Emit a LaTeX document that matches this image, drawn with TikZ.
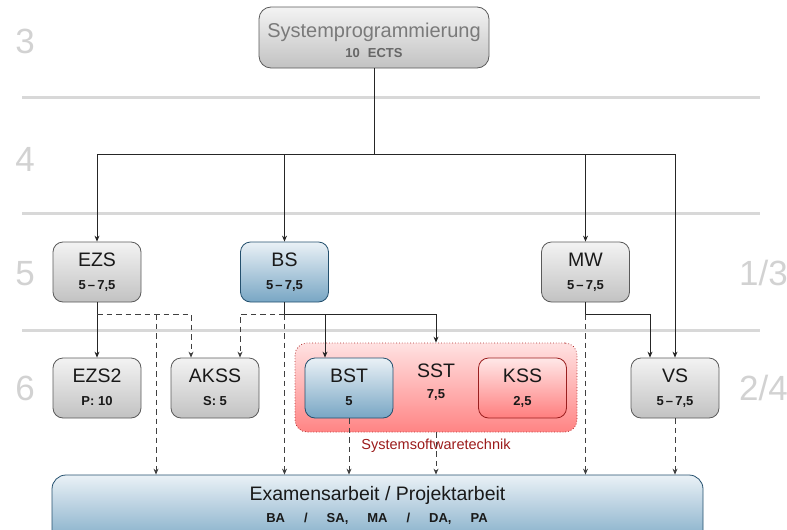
\documentclass[tikz,border=0pt]{standalone}
\usepackage{fontspec}
\setmainfont{Liberation Sans}
\usetikzlibrary{arrows.meta,calc}
\definecolor{gtop}{HTML}{F3F3F3}
\definecolor{gbot}{HTML}{C2C2C2}
\definecolor{gline}{HTML}{5A5A5A}
\definecolor{btop}{HTML}{EAF1F6}
\definecolor{bbot}{HTML}{78A6C4}
\definecolor{bline}{HTML}{24506E}
\definecolor{rtop}{HTML}{FFE8E8}
\definecolor{rbot}{HTML}{FF7E7E}
\definecolor{rline}{HTML}{9A1F1F}
\definecolor{grptop}{HTML}{FFE2E2}
\definecolor{grpbot}{HTML}{FF8484}
\definecolor{grpline}{HTML}{B03030}
\definecolor{semgray}{HTML}{D2D2D2}
\definecolor{sepgray}{HTML}{D8D8D8}
\definecolor{labelred}{HTML}{9B1B1B}
\definecolor{topgray}{HTML}{7A7A7A}
\tikzset{
  modbox/.style={rectangle, rounded corners=10pt, line width=0.8pt, minimum width=88pt, minimum height=60pt, inner sep=0pt},
  graybox/.style={modbox, draw=gline, top color=gtop, bottom color=gbot},
  bluebox/.style={modbox, draw=bline, top color=btop, bottom color=bbot},
  redbox/.style={modbox, draw=rline, top color=rtop, bottom color=rbot},
  grpbox/.style={rectangle, rounded corners=12pt, draw=grpline, dotted, line width=0.8pt, top color=grptop, bottom color=grpbot, inner sep=0pt},
  ttl/.style={font=\fontsize{19.5}{22}\selectfont, anchor=base, inner sep=0pt, text=black!90},
  subt/.style={font=\bfseries\fontsize{13}{15}\selectfont, anchor=base, inner sep=0pt, text=black!90},
  sem/.style={font=\fontsize{35}{40}\selectfont, text=semgray, inner sep=0pt},
  sepline/.style={draw=sepgray, line width=3pt},
  conn/.style={line width=0.8pt, draw=black!85, -{Stealth[length=6pt,width=5pt,inset=2pt]}},
  dconn/.style={conn, draw=black!75, dash pattern=on 5.5pt off 4pt},
}
\newcommand\modul[6]{%
  \node[#2] (#1) at (#3,#4+30) {};
  \node[ttl] (#1t) at ($(#1.north)+(0,25)$) {#5};
  \node[subt] (#1s) at ($(#1.north)+(0,48)$) {#6};
}
\begin{document}
\begin{tikzpicture}[x=1pt,y=-1pt]
\useasboundingbox (0,0) rectangle (787,530);
\clip (0,0) rectangle (787,530);
% separators
\draw[sepline] (22,97) -- (760,97);
\draw[sepline] (22,213) -- (760,213);
\draw[sepline] (22,330) -- (760,330);
% semester labels
\node[sem, anchor=base] (s3) at (25,53) {3};
\node[sem, anchor=base] (s4) at (25,171) {4};
\node[sem, anchor=base] (s5) at (25,285) {5};
\node[sem, anchor=base] (s6) at (25,400) {6};
\node[sem, anchor=base east] (s13) at (788,285) {1/3};
\node[sem, anchor=base east] (s24) at (788,400) {2/4};
% top node
\node[graybox, rounded corners=12pt, minimum width=230pt, minimum height=61pt] (top) at (374,37.5) {};
\node[ttl, text=topgray, font=\fontsize{20}{23}\selectfont] (topt) at (374,37) {Systemprogrammierung};
\node[subt, text=black!60] (tops) at (374,57) {10\hspace{8pt}ECTS};
% SST group
\node[grpbox, minimum width=282pt, minimum height=89pt] (sst) at (436,387.5) {};
\node[ttl] (sstt) at (436,377) {SST};
\node[subt] (ssts) at (436,398) {7,5};
\node[anchor=base, inner sep=0pt, text=labelred, font=\fontsize{14.5}{16}\selectfont] (sstlabel) at (436,449) {Systemsoftwaretechnik};
% modules
\modul{ezs}{graybox}{97}{242}{EZS}{5\,–\,7,5}
\modul{bs}{bluebox}{284.5}{242}{BS}{5\,–\,7,5}
\modul{mw}{graybox}{585.5}{242}{MW}{5\,–\,7,5}
\modul{ezstwo}{graybox}{97}{358}{EZS2}{P: 10}
\modul{akss}{graybox}{215}{358}{AKSS}{S: 5}
\modul{bst}{bluebox}{349}{358}{BST}{5}
\modul{kss}{redbox}{522.5}{358}{KSS}{2,5}
\modul{vs}{graybox}{675}{358}{VS}{5\,–\,7,5}
% exam node
\node[bluebox, rounded corners=14pt, minimum width=651pt, minimum height=73pt] (exam) at (377.5,511.5) {};
\node[ttl] (examt) at (377.5,500) {Examensarbeit / Projektarbeit};
\node[subt] (exams) at (377,522) {BA\hspace{19pt}/\hspace{19pt}SA,\hspace{19pt}MA\hspace{19pt}/\hspace{19pt}DA,\hspace{19pt}PA};
% coordinates
\coordinate (bus) at (374,154);
\coordinate (row) at (0,314);
\coordinate (ezsdrop) at (156,314);
% bus connectors
\draw[conn] (top.south) -- (top.south |- bus) -| (ezs.north);
\draw[conn] (top.south) -- (top.south |- bus) -| (bs.north);
\draw[conn] (top.south) -- (top.south |- bus) -| (mw.north);
\draw[conn] (top.south) -- (top.south |- bus) -| (vs.north);
% EZS
\draw[conn] (ezs.south) -- (ezstwo.north);
\draw[dconn] (ezs.south |- row) -| ($(akss.north)+(-24,0)$);
\draw[dconn] (ezsdrop) -- (ezsdrop |- exam.north);
% BS
\draw[conn] (bs.south) -- (bs.south |- row) -| ($(bst.north)+(-24,0)$);
\draw[conn] (bs.south |- row) -| (sst.north);
\draw[dconn] (bs.south |- row) -| ($(akss.north)+(25,0)$);
\draw[dconn] (bs.south |- row) -- (bs.south |- exam.north);
% BST, SST
\draw[dconn] (bst.south) -- (bst.south |- exam.north);
\draw[dconn] (sst.south) -- (sst.south |- exam.north);
% MW, VS
\draw[conn] (mw.south) -- (mw.south |- row) -| ($(vs.north)+(-25,0)$);
\draw[dconn] (mw.south |- row) -- (mw.south |- exam.north);
\draw[dconn] (vs.south) -- (vs.south |- exam.north);
\end{tikzpicture}
\end{document}
